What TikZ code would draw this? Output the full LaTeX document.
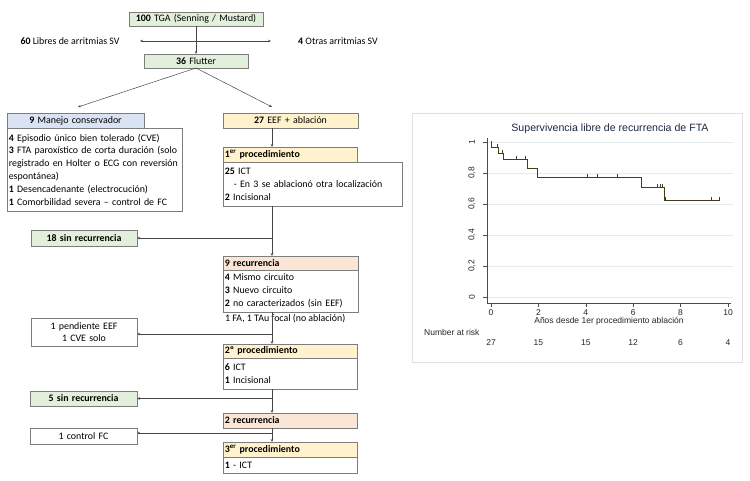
\documentclass[tikz,border=0pt]{standalone}
\usepackage{fontspec}
\setmainfont{Carlito}
\newfontfamily\chartfont{Liberation Sans}
\usetikzlibrary{arrows.meta}
\definecolor{bgreen}{RGB}{226,239,218}
\definecolor{bblue}{RGB}{218,227,243}
\definecolor{byel}{RGB}{255,242,204}
\definecolor{bpink}{RGB}{251,229,214}
\definecolor{bord}{RGB}{125,125,125}
\definecolor{lnc}{RGB}{70,70,70}
\definecolor{kmline}{RGB}{70,60,30}
\definecolor{gridc}{RGB}{228,236,238}
\definecolor{titlec}{RGB}{30,40,65}
\begin{document}
\begin{tikzpicture}[x=1pt,y=-1pt,
  font=\fontsize{9.9}{12.8}\selectfont,
  fbox/.style={draw=bord, line width=0.7pt, anchor=north west, inner xsep=1.8pt, inner ysep=0pt, outer sep=0pt},
  hc/.style={fbox, align=center},
  hl/.style={fbox, align=left},
  conn/.style={draw=lnc, line width=0.5pt},
  arr/.style={conn, -{Stealth[length=3pt,width=2.5pt]}},
  darr/.style={conn, {Stealth[length=3pt,width=2.5pt]}-{Stealth[length=3pt,width=2.5pt]}},
  tk/.style={draw=black!70, line width=0.5pt},
  cf/.style={font=\chartfont\fontsize{8.5}{10}\selectfont, text=black!85, inner sep=0pt}
]
\useasboundingbox (0,0) rectangle (750,481);
\fill[white] (0,0) rectangle (750,481);

% ---------------- flowchart ----------------
\node[hc, fill=bgreen, text width=130.4pt, minimum height=14pt] (tga) at (129,12) {\textbf{100} TGA (Senning / Mustard)};
\node[hc, fill=bgreen, text width=100.4pt, minimum height=14pt] (flut) at (144,54) {\textbf{36} Flutter};
\node[inner sep=0pt] (libres) at (70,41) {\textbf{60} Libres de arritmias SV};
\node[inner sep=0pt] (otras) at (338,41) {\textbf{4} Otras arritmias SV};
\coordinate (hl) at (140,41);
\coordinate (hr) at (271,41);
\coordinate (sp) at (272,0);

\node[hc, fill=bblue, text width=133.4pt, minimum height=15pt] (manH) at (7,113) {\textbf{9} Manejo conservador};
\node[hl, fill=white, text width=171.4pt, minimum height=83pt] (manB) at (7,128) {\textbf{4} Episodio único bien tolerado (CVE)\\ \mbox{\textbf{3} FTA paroxístico de corta duración (solo}\\ \mbox{registrado en Holter o ECG con reversión}\\ espontánea)\\ \textbf{1} Desencadenante (electrocución)\\ \textbf{1} Comorbilidad severa – control de FC};

\node[hc, fill=byel, text width=131.4pt, minimum height=15pt] (eef) at (223,113) {\textbf{27} EEF + ablación};
\coordinate (dl) at (78,107);
\coordinate (dr) at (272,107);

\node[hl, fill=byel, text width=130.4pt, minimum height=15pt] (p1H) at (223,147) {\textbf{1\textsuperscript{er} procedimiento}};
\node[hl, fill=white, text width=175.4pt, minimum height=44pt] (p1B) at (223,162) {\textbf{25} ICT\\ \mbox{\hspace*{9pt}- En 3 se ablacionó otra localización}\\ \textbf{2} Incisional};

\node[hc, fill=bgreen, text width=102.4pt, minimum height=16pt] (s18) at (31,230) {\textbf{18 sin recurrencia}};

\node[hl, fill=bpink, text width=131.4pt, minimum height=14pt] (recH) at (223,256) {\textbf{9 recurrencia}};
\node[hl, fill=white, text width=131.4pt, minimum height=42pt] (recB) at (223,270) {\textbf{4} Mismo circuito\\ \textbf{3} Nuevo circuito\\ \mbox{\textbf{2} no caracterizados (sin EEF)}};
\node[anchor=west, inner sep=0pt] (fa) at (225,319) {1 FA, 1 TAu focal (no ablación)};

\node[hc, fill=white, text width=102.4pt, minimum height=28pt] (pend) at (31,318) {1 pendiente EEF\\ 1 CVE solo};

\node[hl, fill=byel, text width=130.4pt, minimum height=14pt] (p2H) at (223,344) {\textbf{2º procedimiento}};
\node[hl, fill=white, text width=130.4pt, minimum height=31pt] (p2B) at (223,358) {\textbf{6} ICT\\ \textbf{1} Incisional};

\node[hc, fill=bgreen, text width=103.4pt, minimum height=15pt] (s5) at (30,391) {\textbf{5 sin recurrencia}};
\node[hl, fill=bpink, text width=130.4pt, minimum height=15pt] (rec2) at (223,413) {\textbf{2 recurrencia}};
\node[hc, fill=white, text width=103.4pt, minimum height=16pt] (ctrl) at (30,428) {1 control FC};
\node[hl, fill=byel, text width=130.4pt, minimum height=15pt] (p3H) at (223,442) {\textbf{3\textsuperscript{er} procedimiento}};
\node[hl, fill=white, text width=130.4pt, minimum height=16pt] (p3B) at (223,457) {\textbf{1} - ICT};

% connectors
\draw[arr] (tga.south) -- (flut.north);
\draw[darr] (hl) -- (hr);
\draw[arr] (flut.south) -- (dl);
\draw[arr] (flut.south) -- (dr);
\draw[arr] (eef.south -| sp) -- (p1H.north -| sp);
\draw[arr] (p1B.south -| sp) -- (recH.north -| sp);
\draw[arr] (s18.east -| sp) -- (s18.east);
\draw[arr] (recB.south -| sp) -- (p2H.north -| sp);
\draw[arr] (sp |- 0,334) -- (pend.east |- 0,334);
\draw[arr] (p2B.south -| sp) -- (rec2.north -| sp);
\draw[arr] (s5.east -| sp) -- (s5.east);
\draw[arr] (rec2.south -| sp) -- (p3H.north -| sp);
\draw[arr] (sp |- 0,433) -- (ctrl.east |- 0,433);

% ---------------- chart ----------------
\node[draw=black!12, line width=0.6pt, fill=white, anchor=north west, minimum width=330pt, minimum height=249pt, inner sep=0pt] (panel) at (412,113) {};
\node[font=\chartfont\fontsize{10.6}{12}\selectfont, text=titlec, inner sep=0pt] (ttl) at (610,129) {Supervivencia libre de recurrencia de FTA};

\foreach \v/\lab in {0/0,0.2/{0,2},0.4/{0,4},0.6/{0,6},0.8/{0,8},1/1}{
  \draw[gridc, line width=0.6pt] (487,{297-155*\v}) -- (733,{297-155*\v});
  \draw[tk] (483,{297-155*\v}) -- (487,{297-155*\v});
  \node[cf, rotate=90] at (472,{297-155*\v}) {\lab};
}
\draw[tk] (487,138) -- (487,303);
\draw[tk] (487,303) -- (731,303);
\foreach \t in {0,2,4,6,8,10}{
  \draw[tk] ({491+23.7*\t},303) -- ({491+23.7*\t},307);
  \node[cf] at ({491+23.7*\t},313) {\t};
}
\node[cf] (xlab) at (609,321) {Años desde 1er procedimiento ablación};
\node[cf, anchor=west] (nrisk) at (424,332) {Number at risk};
\foreach \t/\n in {0/27,2/15,4/15,6/12,8/6,10/4}{
  \node[cf] at ({491+23.7*\t},343) {\n};
}

% KM curve
\begin{scope}[x=23.7pt, y=155pt, shift={(491pt,-297pt)}]
\draw[kmline, line width=1pt, line join=miter]
  (0,1) -- (0.04,1) -- (0.04,0.963) -- (0.31,0.963) -- (0.31,0.926) -- (0.52,0.926) -- (0.52,0.889)
  -- (1.55,0.889) -- (1.55,0.826) -- (1.97,0.826) -- (1.97,0.774) -- (6.33,0.774) -- (6.33,0.709)
  -- (7.31,0.709) -- (7.31,0.62) -- (9.65,0.62);
\foreach \t/\s in {0.27/0.963,0.48/0.926,1.05/0.889,1.44/0.889,4.07/0.774,4.5/0.774,5.33/0.774,7.02/0.709,7.13/0.709,7.24/0.709,7.37/0.62,9.28/0.62,9.65/0.62}{
  \draw[kmline, line width=0.5pt] (\t,\s) -- ++(0,0.022);
}
\end{scope}
\end{tikzpicture}
\end{document}
